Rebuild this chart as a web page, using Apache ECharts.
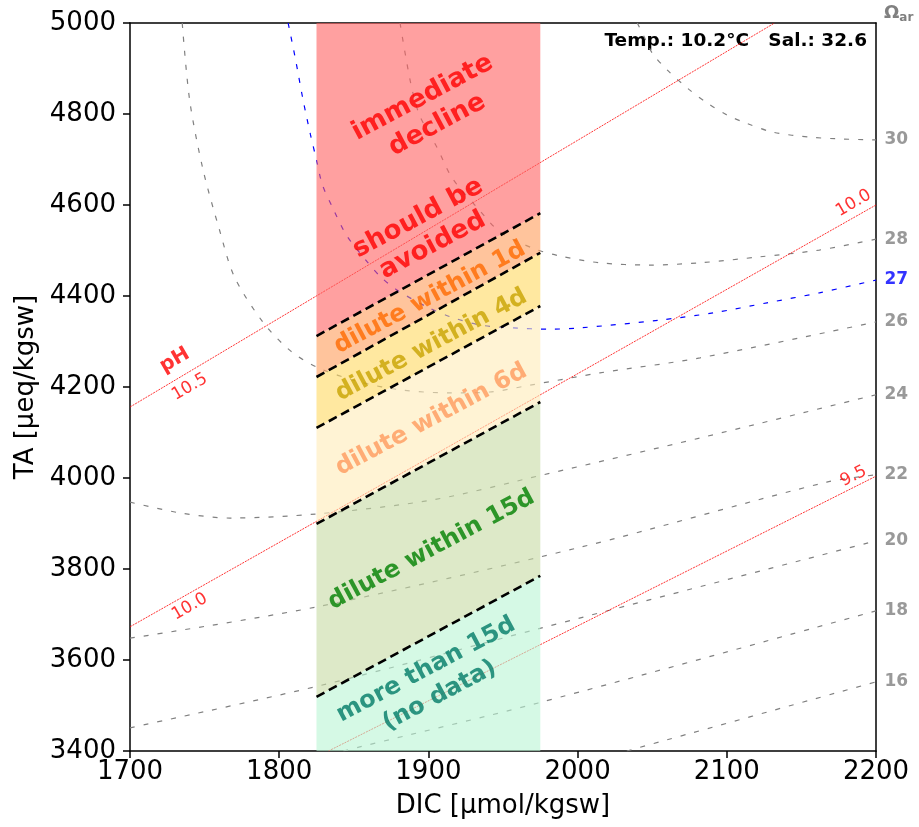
<!DOCTYPE html>
<html><head><meta charset="utf-8">
<script src="https://cdn.jsdelivr.net/npm/echarts@6/dist/echarts.min.js"></script>
<style>html,body{margin:0;padding:0;background:#fff}#c{width:919px;height:827px}</style>
</head><body><div id="c"></div>
<script>
// ---- data ----
const bandDIC = [1825, 1975];
const boundaryLeftTA  = [4312, 4222, 4110, 3899, 3519];
const boundaryRightTA = [4582, 4495, 4378, 4167, 3785];
const bandLabels = ['immediate\ndecline', 'should be\navoided', 'dilute within 1d', 'dilute within 4d', 'dilute within 6d', 'dilute within 15d', 'more than 15d\n(no data)'];
const bandLabelDIC = [1901, 1898, 1901, 1902, 1902, 1902, 1903];
const bandLabelTA  = [4806, 4541, 4396, 4292, 4128, 3842, 3550];

const omegaLevels = [30, 28, 27, 26, 24, 22, 20, 18, 16];
const omega30 = [[2040,5000],[2045,4967],[2050,4934],[2060,4897],[2075,4853],[2087,4824],[2100,4798],[2113,4780],[2131,4760],[2156,4749],[2178,4745],[2200,4743]];
const omega28 = [[1881,5000],[1888,4870],[1894,4798],[1906,4725],[1916,4659],[1933,4593],[1948,4541],[1970,4505],[1988,4488],[2015,4473],[2048,4468],[2082,4473],[2122,4486],[2162,4501],[2200,4525]];
const omega27 = [[1806,5000],[1811,4919],[1816,4831],[1821,4754],[1825,4699],[1829,4644],[1836,4593],[1845,4534],[1859,4475],[1868,4442],[1879,4413],[1899,4376],[1915,4354],[1935,4336],[1957,4330],[1981,4327],[2002,4330],[2055,4347],[2091,4363],[2127,4385],[2162,4407],[2200,4435]];
const omega26 = [[1735,5000],[1740,4830],[1749,4677],[1760,4545],[1770,4442],[1789,4343],[1807,4281],[1825,4244],[1854,4211],[1883,4193],[1915,4187],[1941,4189],[1968,4204],[2015,4231],[2082,4264],[2200,4343]];
const omega24 = [[1700,3947],[1734,3923],[1767,3912],[1825,3921],[1903,3952],[1977,4007],[2082,4088],[2200,4183]];
const omega22 = [[1700,3648],[1824,3716],[2002,3848],[2167,3991],[2200,4007]];
const omega20 = [[1700,3451],[1829,3545],[1973,3668],[2151,3820],[2200,3862]];
const omega18 = [[1843,3400],[1854,3409],[1973,3505],[2200,3708]];
const omega16 = [[2033,3400],[2200,3552]];

const ph105 = [[1700,4156],[2132,5000]];
const ph100 = [[1700,3673],[2200,4600]];
const ph95  = [[1833,3400],[2200,4004]];
const phLabels = ['pH', '10.5', '10.0', '10.0', '9.5'];
const phLabelDIC = [1730, 1740, 1740, 2185, 2185];
const phLabelTA  = [4259, 4200, 3717, 4604, 4004];

// ---- styling ----
const FONT = 'DejaVu Sans';
const bandFills = ['rgba(255,97,97,0.6)','rgba(255,157,90,0.6)','rgba(255,217,97,0.6)','rgba(255,235,183,0.6)','rgba(198,218,163,0.6)','rgba(185,245,212,0.6)'];
const bandLabelColors = ['#ff0000','#ff0000','#ff6a00','#c8a200','#ff9a5c','#008000','#007a66'];
const bandLabelSizes = [26, 26, 24, 24, 24, 24, 24];
const omegaSeries = [omega30, omega28, omega27, omega26, omega24, omega22, omega20, omega18, omega16];

function bandPolygon(i) {
  const yMax = 5000, yMin = 3400;
  const topL = i === 0 ? yMax : boundaryLeftTA[i-1];
  const topR = i === 0 ? yMax : boundaryRightTA[i-1];
  const botL = i === 5 ? yMin : boundaryLeftTA[i];
  const botR = i === 5 ? yMin : boundaryRightTA[i];
  return [[bandDIC[0], topL], [bandDIC[1], topR], [bandDIC[1], botR], [bandDIC[0], botL]];
}

const series = [];
omegaSeries.forEach((d, k) => {
  const blue = omegaLevels[k] === 27;
  series.push({
    type: 'line', data: d, symbol: 'none', smooth: 0.3, z: 1, silent: true,
    lineStyle: { color: blue ? '#0000ff' : '#808080', width: 1.2, type: [5, 9] }
  });
});
[ph105, ph100, ph95].forEach(d => series.push({
  type: 'line', data: d, symbol: 'none', z: 2, silent: true,
  lineStyle: { color: 'rgba(255,0,0,0.8)', width: 1, type: [2, 1] }
}));
series.push({
  type: 'custom', z: 3, silent: true,
  data: [0,1,2,3,4,5].map(i => [1900, 4200, i]),
  renderItem: function (params, api) {
    const i = api.value(2);
    const pts = bandPolygon(i).map(p => api.coord(p));
    return { type: 'polygon', shape: { points: pts }, style: { fill: bandFills[i] } };
  }
});
for (let i = 0; i < boundaryLeftTA.length; i++) {
  series.push({
    type: 'line', symbol: 'none', z: 4, silent: true,
    data: [[bandDIC[0], boundaryLeftTA[i]], [bandDIC[1], boundaryRightTA[i]]],
    lineStyle: { color: '#000', width: 2.6, type: [9, 5] }
  });
}
series.push({
  type: 'scatter', z: 6, silent: true, symbolSize: 1, clip: false,
  itemStyle: { color: 'rgba(0,0,0,0)' },
  data: bandLabels.map((t, i) => ({
    value: [bandLabelDIC[i], bandLabelTA[i]],
    label: { show: true, position: 'inside', formatter: t, rotate: 28, color: bandLabelColors[i],
      fontSize: bandLabelSizes[i], fontWeight: 'bold', fontFamily: FONT, lineHeight: bandLabelSizes[i] + 5, align: 'center', verticalAlign: 'middle' }
  }))
});
series.push({
  type: 'scatter', z: 6, silent: true, symbolSize: 1, clip: false,
  itemStyle: { color: 'rgba(0,0,0,0)' },
  data: phLabels.map((t, i) => ({
    value: [phLabelDIC[i], phLabelTA[i]],
    label: { show: true, position: 'inside', formatter: t, rotate: i === 4 ? 27 : 30, color: '#ff0000',
      fontSize: i === 0 ? 20 : 17, fontWeight: i === 0 ? 'bold' : 'normal', fontFamily: FONT, align: 'center', verticalAlign: 'middle' }
  }))
});
series.push({
  type: 'scatter', z: 6, silent: true, symbolSize: 1, clip: false,
  itemStyle: { color: 'rgba(0,0,0,0)' },
  data: omegaSeries.map((d, k) => ({
    value: d[d.length - 1],
    label: { show: true, position: 'right', distance: 8, formatter: String(omegaLevels[k]),
      color: omegaLevels[k] === 27 ? '#0000ff' : '#808080', fontSize: 17, fontWeight: 'bold', fontFamily: FONT }
  }))
});

const axisLineStyle = { color: '#000', width: 1.5 };
const plain = v => String(v);
const option = {
  animation: false,
  backgroundColor: '#fff',
  grid: { left: 130, top: 23, width: 746, height: 728 },
  xAxis: [{
    type: 'value', min: 1700, max: 2200, interval: 100, position: 'bottom',
    axisLine: { show: true, onZero: false, lineStyle: axisLineStyle },
    axisTick: { show: true, length: 7, lineStyle: axisLineStyle },
    axisLabel: { fontSize: 26, color: '#000', fontFamily: FONT, margin: 8, formatter: plain },
    splitLine: { show: false },
    name: 'DIC [µmol/kgsw]', nameLocation: 'middle', nameGap: 42,
    nameTextStyle: { fontSize: 26, color: '#000', fontFamily: FONT }
  }, {
    type: 'value', min: 1700, max: 2200, position: 'top',
    axisLine: { show: true, onZero: false, lineStyle: axisLineStyle },
    axisTick: { show: false }, axisLabel: { show: false }, splitLine: { show: false }
  }],
  yAxis: [{
    type: 'value', min: 3400, max: 5000, interval: 200, position: 'left',
    axisLine: { show: true, onZero: false, lineStyle: axisLineStyle },
    axisTick: { show: true, length: 7, lineStyle: axisLineStyle },
    axisLabel: { fontSize: 26, color: '#000', fontFamily: FONT, margin: 14, formatter: plain },
    splitLine: { show: false },
    name: 'TA [µeq/kgsw]', nameLocation: 'middle', nameGap: 90,
    nameTextStyle: { fontSize: 26, color: '#000', fontFamily: FONT }
  }, {
    type: 'value', min: 3400, max: 5000, position: 'right',
    axisLine: { show: true, onZero: false, lineStyle: axisLineStyle },
    axisTick: { show: false }, axisLabel: { show: false }, splitLine: { show: false }
  }],
  graphic: [{
    type: 'text', right: 52, top: 32,
    style: { text: 'Temp.: 10.2°C   Sal.: 32.6', fontSize: 18.5, fontWeight: 'bold', fill: '#000', fontFamily: FONT }
  }, {
    type: 'text', left: 884, top: 4,
    style: {
      text: '{o|Ω}{s|ar}',
      rich: { o: { fontSize: 18, fontWeight: 'bold', fill: '#808080', fontFamily: FONT },
              s: { fontSize: 12, fontWeight: 'bold', fill: '#808080', fontFamily: FONT, padding: [9, 0, 0, 0] } }
    }
  }],
  series: series
};
const chart = echarts.init(document.getElementById('c'), null, { renderer: 'canvas' });
chart.setOption(option);
</script></body></html>
